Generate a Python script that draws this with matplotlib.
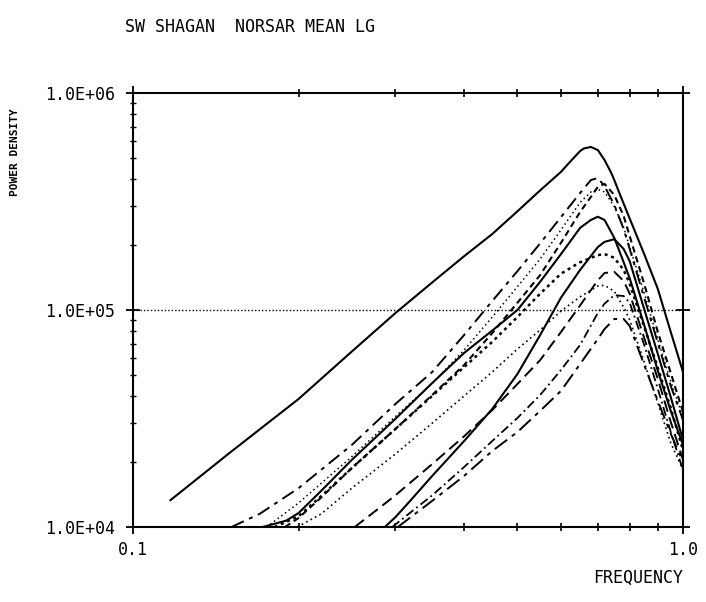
import matplotlib
matplotlib.use("Agg")
import matplotlib.pyplot as plt

plt.rcParams['font.family'] = ['DejaVu Sans Mono', 'DejaVu Sans']

title_text = "SW SHAGAN  NORSAR MEAN LG"
x_label = "FREQUENCY"
y_label = "POWER DENSITY"
x_ticks = [0.1, 1.0]
x_tick_labels = ["0.1", "1.0"]
y_ticks = [1e4, 1e5, 1e6]
y_tick_labels = ["1.0E+04", "1.0E+05", "1.0E+06"]
ref_level = 1e5

# --- spectra (frequency, power density) ---
freq_1 = [0.117, 0.15, 0.2, 0.25, 0.3, 0.35, 0.4, 0.45, 0.5, 0.55, 0.6, 0.62, 0.65, 0.66, 0.68, 0.7, 0.72, 0.74, 0.75, 0.77, 0.8, 0.85, 0.9, 0.95, 1.0]
power_1 = [1.33e4, 2.20e4, 3.89e4, 6.44e4, 9.68e4, 1.34e5, 1.77e5, 2.24e5, 2.85e5, 3.56e5, 4.33e5, 4.75e5, 5.40e5, 5.55e5, 5.64e5, 5.46e5, 4.91e5, 4.30e5, 3.97e5, 3.35e5, 2.64e5, 1.81e5, 1.25e5, 7.92e4, 5.18e4]

freq_2 = [0.151, 0.17, 0.2, 0.25, 0.3, 0.35, 0.4, 0.45, 0.5, 0.55, 0.6, 0.65, 0.68, 0.7, 0.72, 0.75, 0.78, 0.8, 0.85, 0.9, 0.95, 1.0]
power_2 = [1.0e4, 1.15e4, 1.51e4, 2.39e4, 3.69e4, 5.18e4, 7.67e4, 1.10e5, 1.51e5, 2.03e5, 2.68e5, 3.46e5, 3.97e5, 4.06e5, 3.72e5, 3.05e5, 2.36e5, 1.91e5, 1.14e5, 7.05e4, 4.47e4, 3.11e4]

freq_3 = [0.175, 0.2, 0.25, 0.3, 0.35, 0.4, 0.45, 0.5, 0.55, 0.6, 0.65, 0.68, 0.7, 0.72, 0.75, 0.78, 0.8, 0.85, 0.9, 0.95, 1.0]
power_3 = [1.0e4, 1.29e4, 2.11e4, 3.23e4, 4.59e4, 6.54e4, 9.28e4, 1.28e5, 1.72e5, 2.34e5, 3.13e5, 3.50e5, 3.60e5, 3.50e5, 3.00e5, 2.40e5, 1.95e5, 1.20e5, 7.30e4, 4.70e4, 3.20e4]

freq_4 = [0.189, 0.2, 0.22, 0.25, 0.3, 0.35, 0.4, 0.45, 0.5, 0.55, 0.6, 0.65, 0.68, 0.7, 0.72, 0.75, 0.78, 0.8, 0.85, 0.9, 0.95, 1.0]
power_4 = [1.0e4, 1.10e4, 1.37e4, 1.87e4, 2.83e4, 4.06e4, 5.58e4, 7.83e4, 1.08e5, 1.45e5, 2.04e5, 2.83e5, 3.32e5, 3.69e5, 3.81e5, 3.39e5, 2.71e5, 2.19e5, 1.32e5, 7.92e4, 5.13e4, 3.39e4]

freq_5 = [0.172, 0.19, 0.2, 0.22, 0.25, 0.3, 0.35, 0.4, 0.45, 0.5, 0.55, 0.6, 0.65, 0.68, 0.7, 0.72, 0.75, 0.78, 0.8, 0.85, 0.9, 0.95, 1.0]
power_5 = [1.0e4, 1.07e4, 1.16e4, 1.47e4, 2.04e4, 3.15e4, 4.61e4, 6.34e4, 8.04e4, 1.0e5, 1.35e5, 1.81e5, 2.39e5, 2.60e5, 2.69e5, 2.60e5, 2.15e5, 1.66e5, 1.40e5, 8.53e4, 5.24e4, 3.43e4, 2.39e4]

freq_6 = [0.181, 0.2, 0.22, 0.25, 0.3, 0.35, 0.4, 0.45, 0.5, 0.55, 0.6, 0.65, 0.7, 0.72, 0.75, 0.78, 0.8, 0.85, 0.9, 0.95, 1.0]
power_6 = [1.0e4, 1.12e4, 1.39e4, 1.87e4, 2.83e4, 4.02e4, 5.46e4, 7.13e4, 9.29e4, 1.19e5, 1.47e5, 1.66e5, 1.79e5, 1.81e5, 1.74e5, 1.53e5, 1.32e5, 8.36e4, 5.41e4, 3.53e4, 2.26e4]

freq_7 = [0.199, 0.22, 0.25, 0.3, 0.35, 0.4, 0.45, 0.5, 0.55, 0.6, 0.65, 0.7, 0.72, 0.75, 0.78, 0.8, 0.85, 0.9, 0.95, 1.0]
power_7 = [1.0e4, 1.15e4, 1.51e4, 2.17e4, 3.01e4, 4.02e4, 5.18e4, 6.61e4, 8.09e4, 9.89e4, 1.15e5, 1.29e5, 1.30e5, 1.22e5, 1.03e5, 9.00e4, 5.76e4, 3.72e4, 2.44e4, 1.83e4]

freq_8 = [0.253, 0.28, 0.3, 0.35, 0.4, 0.45, 0.5, 0.55, 0.6, 0.65, 0.7, 0.72, 0.75, 0.78, 0.8, 0.85, 0.9, 0.95, 1.0]
power_8 = [1.0e4, 1.22e4, 1.40e4, 1.95e4, 2.62e4, 3.46e4, 4.56e4, 5.88e4, 7.92e4, 1.05e5, 1.37e5, 1.48e5, 1.50e5, 1.36e5, 1.19e5, 7.43e4, 4.81e4, 3.05e4, 2.04e4]

freq_9 = [0.287, 0.3, 0.32, 0.35, 0.4, 0.45, 0.5, 0.55, 0.6, 0.65, 0.7, 0.72, 0.75, 0.78, 0.8, 0.85, 0.9, 0.95, 1.0]
power_9 = [1.0e4, 1.11e4, 1.33e4, 1.72e4, 2.49e4, 3.50e4, 5.07e4, 7.67e4, 1.14e5, 1.53e5, 1.95e5, 2.06e5, 2.12e5, 1.91e5, 1.68e5, 1.01e5, 6.27e4, 3.97e4, 2.52e4]

freq_10 = [0.296, 0.32, 0.35, 0.4, 0.45, 0.5, 0.55, 0.6, 0.65, 0.7, 0.72, 0.75, 0.78, 0.8, 0.85, 0.9, 0.95, 1.0]
power_10 = [1.0e4, 1.17e4, 1.40e4, 1.89e4, 2.49e4, 3.18e4, 4.06e4, 5.29e4, 6.90e4, 9.68e4, 1.07e5, 1.17e5, 1.16e5, 1.08e5, 6.90e4, 4.33e4, 2.74e4, 1.83e4]

freq_11 = [0.303, 0.35, 0.4, 0.45, 0.5, 0.55, 0.6, 0.65, 0.7, 0.72, 0.75, 0.78, 0.8, 0.85, 0.9, 0.95, 1.0]
power_11 = [1.0e4, 1.32e4, 1.72e4, 2.24e4, 2.74e4, 3.43e4, 4.24e4, 5.64e4, 7.35e4, 8.17e4, 9.09e4, 9.09e4, 8.44e4, 5.58e4, 3.81e4, 2.69e4, 2.0e4]

series = [
    (freq_1, power_1, '-', 1.5),
    (freq_2, power_2, (0, (7, 3, 2, 3)), 1.4),
    (freq_3, power_3, (0, (1, 2)), 1.1),
    (freq_4, power_4, (0, (3, 2)), 1.5),
    (freq_5, power_5, '-', 1.5),
    (freq_6, power_6, (0, (1.2, 1.5)), 1.8),
    (freq_7, power_7, (0, (1, 2)), 1.2),
    (freq_8, power_8, (0, (6, 3)), 1.4),
    (freq_9, power_9, '-', 1.5),
    (freq_10, power_10, (0, (5, 2, 1, 2)), 1.3),
    (freq_11, power_11, (0, (8, 3, 2, 3)), 1.4),
]

fig = plt.figure(figsize=(7.06, 6.02), dpi=100)
ax = fig.add_axes([133/706, 1-527/602, 550/706, 434/602])

for f, p, ls, lw in series:
    ax.plot(f, p, color='black', linestyle=ls, linewidth=lw,
            solid_joinstyle='round', dash_joinstyle='round')

ax.axhline(ref_level, color='black', linestyle=(0, (1, 1.5)), linewidth=1.0)

ax.set_xscale('log')
ax.set_yscale('log')
ax.set_xlim(0.1, 1.0)
ax.set_ylim(1e4, 1e6)

ax.set_xticks(x_ticks)
ax.set_xticklabels(x_tick_labels)
ax.set_xticks([0.2, 0.3, 0.4, 0.5, 0.6, 0.7, 0.8, 0.9], minor=True)
ax.set_yticks(y_ticks)
ax.set_yticklabels(y_tick_labels)
ax.set_yticks([k * 10**e for e in (4, 5) for k in range(2, 10)], minor=True)
ax.xaxis.set_minor_formatter(matplotlib.ticker.NullFormatter())
ax.yaxis.set_minor_formatter(matplotlib.ticker.NullFormatter())

for s in ax.spines.values():
    s.set_linewidth(1.5)

ax.tick_params(which='major', direction='inout', length=10, width=1.3,
               top=True, right=True, labelsize=12)
ax.tick_params(axis='y', which='major', pad=8)
ax.tick_params(axis='x', which='major', pad=5)
ax.tick_params(axis='x', which='minor', direction='inout', length=6, width=1.2, top=True)
ax.tick_params(axis='y', which='minor', direction='inout', length=5, width=1.0, right=False)

fig.text(125/706, 1-27/602, title_text, fontsize=12, ha='left', va='center')
fig.text(683/706, 1-578/602, x_label, fontsize=12, ha='right', va='center')
fig.text(15/706, 1-152/602, y_label, fontsize=8, fontweight='bold', rotation=90,
         ha='center', va='center')

fig.savefig('out.png', dpi=100)
